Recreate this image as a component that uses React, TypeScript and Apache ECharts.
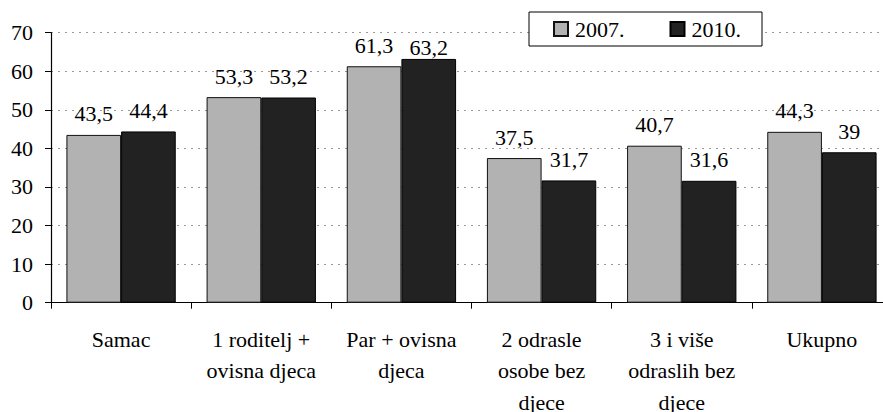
import React, { useEffect, useRef } from "react";
import * as echarts from "echarts";

const categories = [
  "Samac",
  "1 roditelj +\novisna djeca",
  "Par + ovisna\ndjeca",
  "2 odrasle\nosobe bez\ndjece",
  "3 i više\nodraslih bez\ndjece",
  "Ukupno",
];
const seriesNames = ["2007.", "2010."];
const values2007 = [43.5, 53.3, 61.3, 37.5, 40.7, 44.3];
const values2010 = [44.4, 53.2, 63.2, 31.7, 31.6, 39];
const yTicks = { min: 0, max: 70, interval: 10 };

const FONT = "Liberation Serif";
const FS = 22;

export default function App() {
  const ref = useRef<HTMLDivElement>(null);
  useEffect(() => {
    if (!ref.current) return;
    const chart = echarts.init(ref.current, undefined, { renderer: "svg" });
    const fmt = (p: any) => String(p.value).replace(".", ",");
    const labelBase = {
      show: true,
      position: "top" as const,
      distance: 10,
      formatter: fmt,
      color: "#000",
      fontSize: FS,
      fontFamily: FONT,
    };
    chart.setOption({
      animation: false,
      backgroundColor: "#fff",
      textStyle: { fontFamily: FONT, color: "#000", fontSize: FS },
      grid: { left: 51, right: 0, top: 32.7, bottom: 109.3, containLabel: false, outerBoundsMode: "none" },
      legend: {
        left: 529,
        top: 12,
        orient: "horizontal",
        icon: "rect",
        itemWidth: 14,
        itemHeight: 14,
        itemGap: 45,
        padding: [6, 21, 6, 24],
        backgroundColor: "#fff",
        borderColor: "#000",
        borderWidth: 1,
        textStyle: { fontSize: FS, fontFamily: FONT, color: "#000", padding: [0, 0, 0, 2] },
        data: seriesNames,
      },
      xAxis: {
        type: "category",
        data: categories,
        axisLine: { lineStyle: { color: "#000", width: 1.2 } },
        axisTick: { show: true, length: 6, lineStyle: { color: "#000" } },
        axisLabel: {
          fontSize: FS,
          fontFamily: FONT,
          color: "#000",
          lineHeight: 31.5,
          margin: 21,
          interval: 0,
        },
      },
      yAxis: {
        type: "value",
        min: yTicks.min,
        max: yTicks.max,
        interval: yTicks.interval,
        axisLine: { show: true, lineStyle: { color: "#000", width: 1.2 } },
        axisTick: { show: true, length: 6, lineStyle: { color: "#000" } },
        axisLabel: { fontSize: FS, fontFamily: FONT, color: "#000", margin: 18 },
        splitLine: { show: true, lineStyle: { color: "#999", type: [2, 5], width: 1.2 } },
      },
      series: [
        {
          name: seriesNames[0],
          type: "bar",
          data: values2007,
          barGap: "0%",
          barCategoryGap: "22%",
          itemStyle: { color: "#b2b2b2", borderColor: "#111", borderWidth: 1 },
          label: labelBase,
        },
        {
          name: seriesNames[1],
          type: "bar",
          data: values2010.map((v, i) => (i === 2 ? { value: v, label: { distance: 0 } } : v)),
          barGap: "0%",
          barCategoryGap: "22%",
          itemStyle: { color: "#222222", borderColor: "#000", borderWidth: 1 },
          label: labelBase,
        },
      ],
    });
    return () => chart.dispose();
  }, []);
  return (
    <div style={{ position: "absolute", left: 0, top: 0, width: 883, height: 412, overflow: "hidden", background: "#fff" }}>
      <div ref={ref} style={{ width: 892, height: 412 }} />
    </div>
  );
}
